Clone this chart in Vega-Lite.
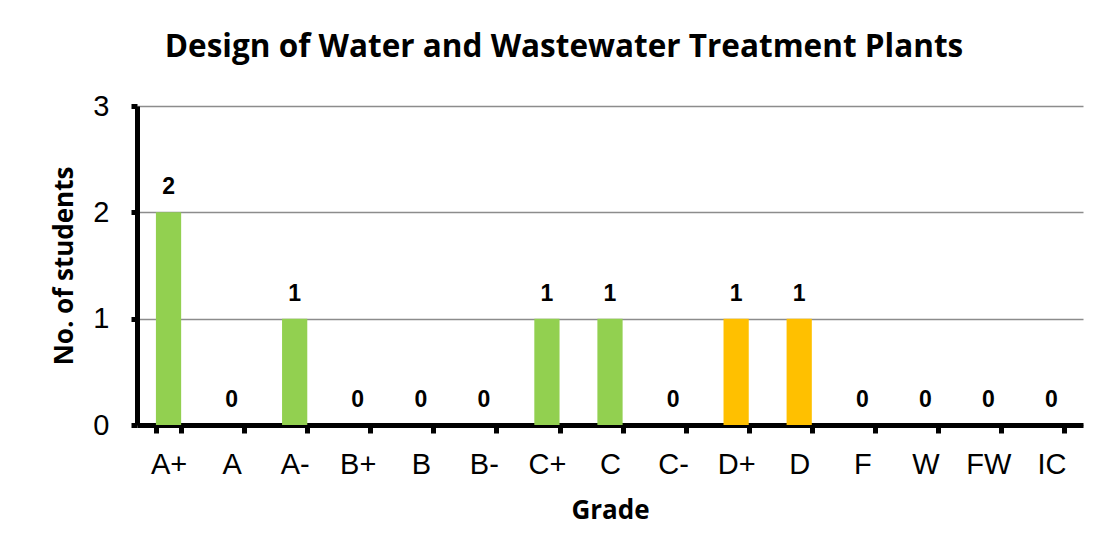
{
  "$schema": "https://vega.github.io/schema/vega-lite/v6.json",
  "width": 946,
  "height": 319,
  "autosize": {"type": "none"},
  "padding": {"left": 137, "top": 106, "right": 14, "bottom": 135},
  "background": "white",
  "title": {
    "text": "Design of Water and Wastewater Treatment Plants",
    "font": "Open Sans",
    "fontWeight": "bold",
    "fontSize": 31.5,
    "color": "#000000",
    "anchor": "middle",
    "frame": "group",
    "dx": -46,
    "offset": 29
  },
  "data": {
    "values": [
      {"grade": "A+", "students": 2, "tier": "AC"},
      {"grade": "A", "students": 0, "tier": "AC"},
      {"grade": "A-", "students": 1, "tier": "AC"},
      {"grade": "B+", "students": 0, "tier": "AC"},
      {"grade": "B", "students": 0, "tier": "AC"},
      {"grade": "B-", "students": 0, "tier": "AC"},
      {"grade": "C+", "students": 1, "tier": "AC"},
      {"grade": "C", "students": 1, "tier": "AC"},
      {"grade": "C-", "students": 0, "tier": "AC"},
      {"grade": "D+", "students": 1, "tier": "D"},
      {"grade": "D", "students": 1, "tier": "D"},
      {"grade": "F", "students": 0, "tier": "D"},
      {"grade": "W", "students": 0, "tier": "D"},
      {"grade": "FW", "students": 0, "tier": "D"},
      {"grade": "IC", "students": 0, "tier": "D"}
    ]
  },
  "encoding": {
    "x": {
      "field": "grade",
      "type": "nominal",
      "sort": null,
      "scale": {"paddingInner": 0.6, "paddingOuter": 0.3},
      "axis": {
        "title": "Grade",
        "titleFont": "Open Sans",
        "titleFontWeight": "bold",
        "titleFontSize": 26,
        "titleColor": "#000000",
        "titlePadding": 18,
        "labelAngle": 0,
        "labelFont": "Liberation Sans",
        "labelFontSize": 29,
        "labelColor": "#000000",
        "labelPadding": 17,
        "domainColor": "#000000",
        "domainWidth": 5,
        "tickColor": "#000000",
        "tickWidth": 5,
        "tickSize": 8,
        "tickBand": "extent",
        "grid": false
      }
    },
    "y": {
      "field": "students",
      "type": "quantitative",
      "scale": {"domain": [0, 3], "nice": false},
      "axis": {
        "title": "No. of students",
        "titleFont": "Open Sans",
        "titleFontWeight": "bold",
        "titleFontSize": 26,
        "titleColor": "#000000",
        "titlePadding": 15,
        "values": [0, 1, 2, 3],
        "format": "d",
        "labelFont": "Liberation Sans",
        "labelFontSize": 29,
        "labelColor": "#000000",
        "labelPadding": 22,
        "domainColor": "#000000",
        "domainWidth": 5,
        "tickColor": "#000000",
        "tickWidth": 5,
        "tickSize": 6,
        "grid": true,
        "gridColor": "#8C8C8C",
        "gridWidth": 1.5
      }
    }
  },
  "layer": [
    {
      "mark": {"type": "bar"},
      "encoding": {
        "color": {
          "field": "tier",
          "type": "nominal",
          "scale": {"domain": ["AC", "D"], "range": ["#92D050", "#FFC000"]},
          "legend": null
        }
      }
    },
    {
      "mark": {
        "type": "text",
        "baseline": "bottom",
        "dy": -13,
        "font": "Liberation Sans",
        "fontWeight": "bold",
        "fontSize": 23,
        "color": "#000000"
      },
      "encoding": {"text": {"field": "students", "type": "quantitative"}}
    }
  ],
  "config": {"view": {"stroke": null}}
}
